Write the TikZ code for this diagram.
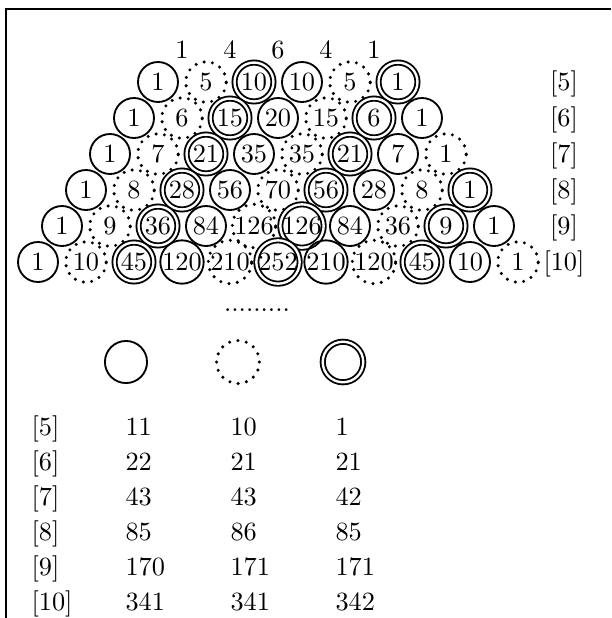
\documentclass[tikz,border=0pt]{standalone}
\begin{document}
\begin{tikzpicture}[
	x=0.38pt, y=-0.38pt,
	ring/.style={ circle, draw, line width=0.7pt, inner sep=0pt, minimum size=15.2pt },
	ringd/.style={ circle, draw, line width=1.3pt, line cap=round, dash pattern=on 0pt off 3.2pt, inner sep=0pt, minimum size=15.4pt },
	ringo/.style={ circle, draw, line width=0.7pt, double, double distance=0.9pt, inner sep=0pt, minimum size=14.8pt },
	lbl/.style={ anchor=base, inner sep=0pt },
	cell/.style={ anchor=base west, inner sep=0pt }
]
\useasboundingbox (0,0) rectangle (611,618);

% frame
\coordinate (tl) at (6,9);
\coordinate (tr) at (611,9);
\coordinate (bl) at (6,618);
\draw[line width=0.6pt] (tr) -- (tl) -- (bl);

% row 4, no rings
\foreach \v [count=\j from 0] in {1,4,6,4,1}
  \node[lbl] (t\j) at ({182+48*\j},58) {\v};

% rows 5 to 10
\foreach \n/\vals in {5/{1,5,10,10,5,1}, 6/{1,6,15,20,15,6,1}, 7/{1,7,21,35,35,21,7,1},
    8/{1,8,28,56,70,56,28,8,1}, 9/{1,9,36,84,126,126,84,36,9,1},
    10/{1,10,45,120,210,252,210,120,45,10,1}} {
  \foreach \v [count=\k from 0] in \vals {
    \pgfmathtruncatemacro\t{mod(\k,3)}
    \ifcase\t \def\sty{ring}\or \def\sty{ringd}\or \def\sty{ringo}\fi
    \node[\sty] (r\n-\k) at ({278+48*(\k-\n/2)},{82+36*(\n-5)}) {\v};
  }
  \node[lbl] (l\n) at (564,{90.5+36*(\n-5)}) {[\n]};
}

\node[lbl] (gap) at (257,311) {.........};

% key
\node[ring, minimum size=16pt] (ka) at (126,362) {};
\node[ringd, minimum size=16.3pt] (kb) at (238,362) {};
\node[ringo, minimum size=15.4pt] (kc) at (343,362) {};

% counts
\foreach \n/\a/\b/\c [count=\i from 0] in {5/11/10/1, 6/22/21/21, 7/43/43/42,
    8/85/86/85, 9/170/171/171, 10/341/341/342} {
  \node[cell] (c\n) at (31,{435.5+35*\i}) {[\n]};
  \node[cell] (a\n) at (125,{435.5+35*\i}) {\a};
  \node[cell] (b\n) at (230,{435.5+35*\i}) {\b};
  \node[cell] (d\n) at (335,{435.5+35*\i}) {\c};
}

\end{tikzpicture}
\end{document}
